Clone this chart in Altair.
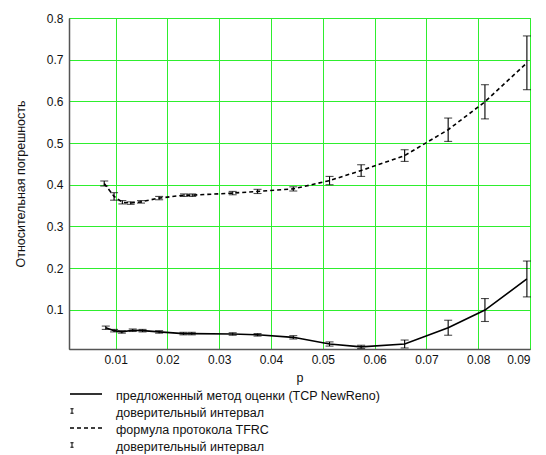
import altair as alt
import pandas as pd

FONT = "Liberation Sans"
GREEN = "#2eee2e"

# TCP NewReno (proposed method) – solid line
p_reno = [0.0081, 0.0097, 0.0112, 0.0133, 0.0152, 0.0184, 0.0231, 0.0247, 0.0326, 0.0374,
          0.0443, 0.0513, 0.0574, 0.0658, 0.0742, 0.0813, 0.0894]
reno = [0.057, 0.050, 0.047, 0.051, 0.050, 0.047, 0.043, 0.043, 0.042, 0.040,
        0.034, 0.018, 0.011, 0.018, 0.057, 0.0995, 0.174]
reno_err = [0.004, 0.003, 0.003, 0.003, 0.003, 0.003, 0.003, 0.003, 0.003, 0.003,
            0.004, 0.005, 0.004, 0.0095, 0.018, 0.0275, 0.043]

# TFRC formula – dashed line
p_tfrc = [0.0078, 0.0097, 0.0113, 0.0129, 0.0149, 0.0184, 0.0232, 0.0248, 0.0326, 0.0374,
          0.0443, 0.0513, 0.0574, 0.0658, 0.0742, 0.0813, 0.0894]
tfrc = [0.403, 0.372, 0.358, 0.356, 0.359, 0.368, 0.375, 0.375, 0.380, 0.384,
        0.390, 0.410, 0.434, 0.470, 0.532, 0.599, 0.6925]
tfrc_err = [0.006, 0.009, 0.004, 0.003, 0.003, 0.004, 0.003, 0.003, 0.004, 0.005,
            0.005, 0.010, 0.014, 0.014, 0.028, 0.041, 0.0645]

legend_labels = ["предложенный метод оценки (TCP NewReno)", "доверительный интервал",
                 "формула протокола TFRC", "доверительный интервал"]
legend_kinds = ["solid", "bar", "dashed", "bar"]

x_ticks = [0.01, 0.02, 0.03, 0.04, 0.05, 0.06, 0.07, 0.08, 0.09]
y_ticks = [0.1, 0.2, 0.3, 0.4, 0.5, 0.6, 0.7, 0.8]
x_title = "p"
y_title = "Относительная погрешность"

rows = []
for name, ps, vs, es in (("reno", p_reno, reno, reno_err), ("tfrc", p_tfrc, tfrc, tfrc_err)):
    for p, v, e in zip(ps, vs, es):
        rows.append({"series": name, "p": p, "v": v, "lo": v - e, "hi": v + e})
df = pd.DataFrame(rows)

W, H = 461, 331

xs = alt.Scale(domain=[0.001, 0.09], nice=False, zero=False)
ys = alt.Scale(domain=[0.006, 0.8], nice=False, zero=False)

x_axis = alt.Axis(values=x_ticks, format=".2f", grid=True, gridColor=GREEN, gridWidth=1,
                  tickSize=0, domainColor="#555555", domainWidth=1.5, labelPadding=5,
                  labelFont=FONT, labelFontSize=12, labelColor="#111", titleFont=FONT,
                  titleFontSize=12.5, titleFontWeight="normal", titleColor="#111", titlePadding=6)
y_axis = alt.Axis(values=y_ticks, format=".1f", grid=True, gridColor=GREEN, gridWidth=1,
                  tickSize=0, domainColor="#555555", domainWidth=1.5, labelPadding=6,
                  labelFont=FONT, labelFontSize=12, labelColor="#111", titleFont=FONT,
                  titleFontSize=12.5, titleFontWeight="normal", titleColor="#111", titlePadding=19)

X = alt.X("p:Q", scale=xs, axis=x_axis, title=x_title)
Yv = alt.Y("v:Q", scale=ys, axis=y_axis, title=y_title)
Ylo = alt.Y("lo:Q", scale=ys, title=y_title)
Yhi = alt.Y("hi:Q", scale=ys, title=y_title)

base = alt.Chart(df)

line_reno = base.transform_filter("datum.series == 'reno'").mark_line(
    color="black", strokeWidth=1.6).encode(x=X, y=Yv)
line_tfrc = base.transform_filter("datum.series == 'tfrc'").mark_line(
    color="black", strokeWidth=1.6, strokeDash=[4, 3]).encode(x=X, y=Yv)
bars = base.mark_rule(color="black", strokeWidth=1.1).encode(x=X, y=Ylo, y2="hi:Q")
cap_lo = base.mark_tick(orient="horizontal", size=8, thickness=1.1, color="black").encode(x=X, y=Ylo)
cap_hi = base.mark_tick(orient="horizontal", size=8, thickness=1.1, color="black").encode(x=X, y=Yhi)

main = alt.layer(line_reno, line_tfrc, bars, cap_lo, cap_hi).properties(
    width=W, height=H, view=alt.ViewBackground(stroke="#4b7b4b", strokeWidth=1))

# legend panel
leg_df = pd.DataFrame({"row": list(range(len(legend_labels))), "label": legend_labels,
                       "kind": legend_kinds})
LY = alt.Y("row:Q", scale=alt.Scale(domain=[0, 3], reverse=True), axis=None)
leg = alt.Chart(leg_df)
leg_text = leg.mark_text(align="left", baseline="middle", font=FONT, fontSize=12.5,
                         color="#111", dy=2).encode(x=alt.value(47), y=LY, text="label:N")
leg_solid = leg.transform_filter("datum.kind == 'solid'").mark_rule(
    color="black", strokeWidth=1.6).encode(x=alt.value(1), x2=alt.value(33), y=LY)
leg_dash = leg.transform_filter("datum.kind == 'dashed'").mark_rule(
    color="black", strokeWidth=1.6, strokeDash=[4, 3]).encode(x=alt.value(1), x2=alt.value(33), y=LY)
leg_bar = leg.transform_filter("datum.kind == 'bar'").mark_point(
    shape="M0,-1V1M-0.7,-1H0.7M-0.7,1H0.7", size=20, color="black", filled=False,
    strokeWidth=1, opacity=1).encode(x=alt.value(3), y=LY)

legend = alt.layer(leg_solid, leg_dash, leg_bar, leg_text).properties(
    width=W, height=51, view=alt.ViewBackground(stroke=None))

chart = alt.vconcat(main, legend, spacing=6).properties(
    padding={"left": 5, "top": 3, "right": 5, "bottom": 2},
    background="white")

chart.save("out.html", embed_options={"renderer": "svg", "actions": False})
